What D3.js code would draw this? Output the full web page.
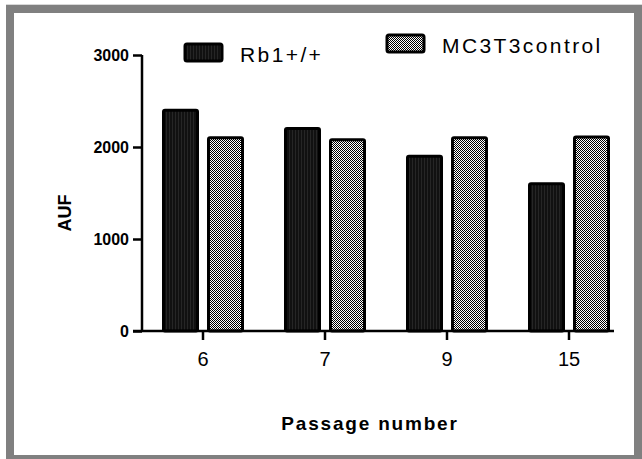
<!DOCTYPE html>
<html>
<head>
<meta charset="utf-8">
<script src="https://cdn.jsdelivr.net/npm/d3@7"></script>
<style>
  html, body { margin: 0; padding: 0; background: #fff; }
  svg { display: block; }
  text { font-family: "Liberation Sans", Arial, sans-serif; fill: #000; }
</style>
</head>
<body>
<svg id="chart" width="642" height="459"></svg>
<script>
// Passage numbers and AUF readings for the two cell lines
const passages = ["6", "7", "9", "15"];
const rb1Values = [2400, 2200, 1900, 1600];
const controlValues = [2100, 2080, 2100, 2110];
const seriesNames = ["Rb1+/+", "MC3T3control"];
const yTicks = [0, 1000, 2000, 3000];

const svg = d3.select("#chart");
const defs = svg.append("defs");

// Dark fill with faint vertical striping
const dark = defs.append("pattern").attr("id", "darkFill")
  .attr("patternUnits", "userSpaceOnUse").attr("width", 3).attr("height", 2);
dark.append("rect").attr("width", 3).attr("height", 2).attr("fill", "#111");
dark.append("rect").attr("x", 1).attr("width", 1).attr("height", 2).attr("fill", "#262626");

// Fine black/white checker fill
const checker = defs.append("pattern").attr("id", "checkFill")
  .attr("patternUnits", "userSpaceOnUse").attr("width", 2).attr("height", 2);
checker.append("rect").attr("width", 2).attr("height", 2).attr("fill", "#ffffff");
checker.append("rect").attr("width", 1).attr("height", 1).attr("fill", "#000");
checker.append("rect").attr("x", 1).attr("y", 1).attr("width", 1).attr("height", 1).attr("fill", "#000");

const fills = ["url(#darkFill)", "url(#checkFill)"];

// Gray frame around the figure
svg.append("rect").attr("x", 10).attr("y", 9).attr("width", 628).attr("height", 450)
  .attr("fill", "none").attr("stroke", "#808080").attr("stroke-width", 8);
svg.append("line").attr("x1", 6).attr("x2", 642).attr("y1", 4.5).attr("y2", 4.5)
  .attr("stroke", "#d8d8d8").attr("stroke-width", 1);

const axisLeft = 142, axisRight = 614;
const x = d3.scaleBand().domain(passages).range([142, 630]);
const y = d3.scaleLinear().domain([0, 3000]).range([331, 55]);

const barW = 34, barGap = 11;
const series = [rb1Values, controlValues];

series.forEach((vals, si) => {
  svg.append("g").selectAll("rect").data(vals).join("rect")
    .attr("x", (d, i) => {
      const c = x(passages[i]) + x.bandwidth() / 2;
      return si === 0 ? c - barGap / 2 - barW : c + barGap / 2;
    })
    .attr("y", d => y(d))
    .attr("width", barW)
    .attr("height", d => y(0) - y(d))
    .attr("rx", 1.5)
    .attr("fill", fills[si])
    .attr("stroke", "#000")
    .attr("stroke-width", 3);
});

// Y axis
const yAxis = svg.append("g").attr("transform", `translate(${axisLeft},0)`)
  .call(d3.axisLeft(y).tickValues(yTicks).tickSize(9).tickPadding(4).tickFormat(d3.format("d")));
yAxis.select(".domain").attr("d", `M0,${y(3000)}V${y(0)}`).attr("stroke-width", 2.5);
yAxis.selectAll(".tick line").attr("stroke-width", 2.5);
yAxis.selectAll(".tick text").attr("font-size", 16).attr("font-weight", "bold")
  .attr("font-family", "Liberation Sans, Arial, sans-serif");

// X axis
const xAxis = svg.append("g").attr("transform", `translate(0,${y(0)})`)
  .call(d3.axisBottom(x).tickSize(9).tickPadding(12));
xAxis.select(".domain").attr("d", `M${axisLeft - 9},0H${axisRight}`).attr("stroke-width", 2.5);
xAxis.selectAll(".tick line").attr("stroke-width", 2.5);
xAxis.selectAll(".tick text").attr("font-size", 20)
  .attr("font-family", "Liberation Sans, Arial, sans-serif");

// Axis titles
svg.append("text")
  .attr("transform", `translate(71,213) rotate(-90)`)
  .attr("text-anchor", "middle").attr("font-size", 18).attr("font-weight", "bold")
  .text("AUF");

svg.append("text")
  .attr("x", 370).attr("y", 430)
  .attr("text-anchor", "middle").attr("font-size", 19).attr("font-weight", "bold")
  .attr("letter-spacing", 1.8)
  .text("Passage number");

// Legend
const legendItems = [
  { name: seriesNames[0], fill: fills[0], sx: 185, sy: 44, tx: 240, ty: 62 },
  { name: seriesNames[1], fill: fills[1], sx: 387, sy: 35, tx: 442, ty: 53 }
];
legendItems.forEach(it => {
  svg.append("rect").attr("x", it.sx).attr("y", it.sy).attr("width", 37).attr("height", 17)
    .attr("rx", 2).attr("fill", it.fill).attr("stroke", "#000").attr("stroke-width", 3);
  svg.append("text").attr("x", it.tx).attr("y", it.ty).attr("font-size", 21)
    .attr("letter-spacing", 2.4).text(it.name);
});
</script>
</body>
</html>
